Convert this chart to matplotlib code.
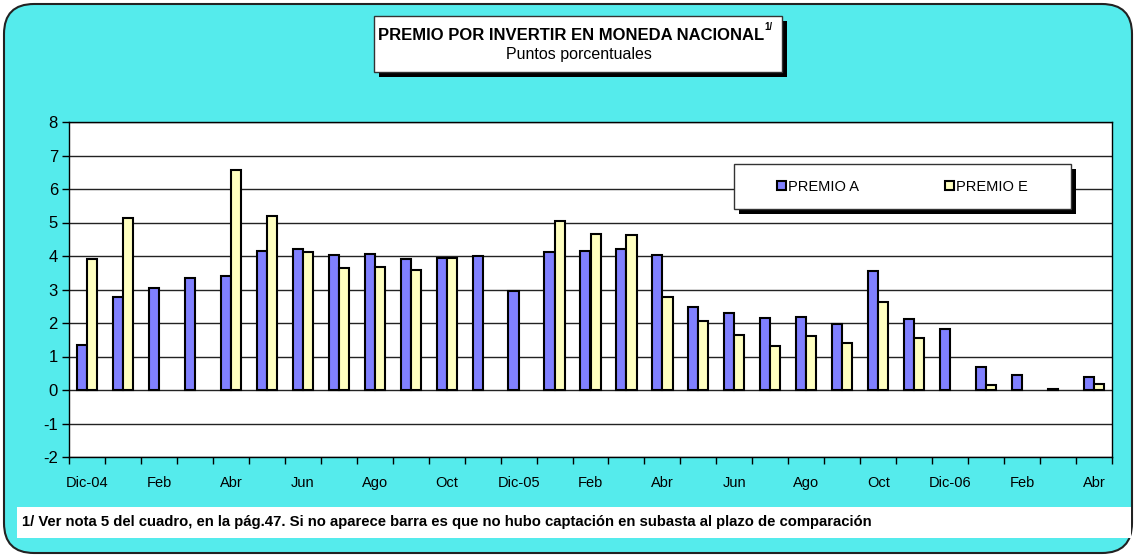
import numpy as np
import matplotlib
matplotlib.use("Agg")
import matplotlib.pyplot as plt
import matplotlib.font_manager as fm
from matplotlib.patches import FancyBboxPatch, Rectangle
from matplotlib.text import Annotation

# keep the narrow variant out of the way so 'Liberation Sans' is the regular width one
fm.fontManager.ttflist = [f for f in fm.fontManager.ttflist
                          if not (f.name.startswith('Liberation Sans') and 'Narrow' in f.fname)]
plt.rcParams['font.family'] = ['Liberation Sans', 'DejaVu Sans']
plt.rcParams['axes.unicode_minus'] = False

# data (puntos porcentuales)
months = ['Dic-04', 'Ene', 'Feb', 'Mar', 'Abr', 'May', 'Jun', 'Jul', 'Ago', 'Sep',
          'Oct', 'Nov', 'Dic-05', 'Ene', 'Feb', 'Mar', 'Abr', 'May', 'Jun', 'Jul',
          'Ago', 'Sep', 'Oct', 'Nov', 'Dic-06', 'Ene', 'Feb', 'Mar', 'Abr']
premio_a = [1.33, 2.77, 3.05, 3.34, 3.39, 4.15, 4.21, 4.02, 4.07, 3.90,
            3.94, 3.99, 2.95, 4.12, 4.15, 4.20, 4.04, 2.49, 2.31, 2.14,
            2.17, 1.97, 3.56, 2.13, 1.82, 0.69, 0.45, 0.03, 0.40]
premio_e = [3.92, 5.14, np.nan, np.nan, 6.56, 5.18, 4.11, 3.64, 3.68, 3.57,
            3.94, np.nan, np.nan, 5.03, 4.67, 4.62, 2.79, 2.06, 1.64, 1.32,
            1.61, 1.41, 2.64, 1.56, np.nan, 0.16, np.nan, np.nan, 0.18]

W, H = 1136, 557
fig = plt.figure(figsize=(W / 100, H / 100), dpi=100)
fig.patch.set_facecolor('white')
tr = fig.dpi_scale_trans


def box(x0, y0, x1, y1, **kw):
    # pixel coords, origin top-left
    return Rectangle((x0 / 100, (H - y1) / 100), (x1 - x0) / 100, (y1 - y0) / 100,
                     transform=tr, **kw)


# background rounded panel
bg = FancyBboxPatch((4 / 100, 4 / 100), (W - 8) / 100, (H - 8) / 100,
                    boxstyle='round,pad=0,rounding_size=0.3', transform=tr,
                    facecolor='#55EBEC', edgecolor='#222222', lw=1.5, zorder=-2)
fig.add_artist(bg)

ax = fig.add_axes([69 / W, (H - 457) / H, (1112 - 69) / W, (457 - 122) / H])
ax.set_facecolor('white')

x = np.arange(len(months))
w = 0.28
ax.bar(x - w / 2, premio_a, w, color='#8080FF', edgecolor='black', lw=1.5, zorder=3,
       label='PREMIO A')
ax.bar(x + w / 2, premio_e, w, color='#FFFFC0', edgecolor='black', lw=1.5, zorder=3,
       label='PREMIO E')

ax.set_xlim(-0.5, len(months) - 0.5)
ax.set_ylim(-2, 8)
ax.set_yticks(range(-2, 9))
ax.yaxis.grid(True, color='#222222', lw=1)
ax.set_axisbelow(True)
ax.tick_params(axis='y', labelsize=12, length=5, width=1, pad=3, direction='out')

ax.set_xticks(x[::2])
ax.set_xticklabels(months[::2])
ax.set_xticks(np.arange(-0.5, len(months)), minor=True)
ax.tick_params(axis='x', which='major', length=0, pad=14, labelsize=10.5)
ax.tick_params(axis='x', which='minor', length=5, width=1, direction='out')
for s in ax.spines.values():
    s.set_color('black')
    s.set_linewidth(1)

# legend box with shadow
fig.add_artist(box(739, 169, 1076, 214, facecolor='black', edgecolor='none', zorder=2))
fig.add_artist(box(734, 164, 1071, 209, facecolor='white', edgecolor='#333333', lw=1, zorder=3))
h, l = ax.get_legend_handles_labels()
leg = fig.legend(h, l, loc='center left', bbox_to_anchor=(777 / W, (H - 187) / H),
                 ncol=2, frameon=False, fontsize=10.5, handlelength=0.6, handleheight=0.6,
                 handletextpad=0.15, columnspacing=5.9, borderpad=0, borderaxespad=0)
leg.set_zorder(4)

# title box with shadow
fig.add_artist(box(379, 21, 787, 77, facecolor='black', edgecolor='none', zorder=2))
fig.add_artist(box(374, 16, 782, 72, facecolor='white', edgecolor='#333333', lw=1, zorder=3))
t = fig.text(571 / W, (H - 35) / H, 'PREMIO POR INVERTIR EN MONEDA NACIONAL',
             ha='center', va='center', fontsize=12, fontweight='bold', zorder=4)
sup = Annotation('1/', xy=(1, 0.7), xycoords=t, xytext=(0.5, 0), textcoords='offset points',
                 fontsize=7, fontweight='bold', ha='left', va='bottom', zorder=4)
fig.add_artist(sup)
fig.text(579 / W, (H - 55) / H, 'Puntos porcentuales', ha='center', va='center',
         fontsize=11.5, zorder=4)

# footnote box
fig.add_artist(box(17, 507, 1131, 538, facecolor='white', edgecolor='none', zorder=2))
fig.text(22 / W, (H - 522) / H,
         '1/ Ver nota 5 del cuadro, en la pág.47. Si no aparece barra es que no hubo '
         'captación en subasta al plazo de comparación',
         ha='left', va='center', fontsize=10.7, fontweight='bold', zorder=4)

fig.savefig('out.png', dpi=100)
